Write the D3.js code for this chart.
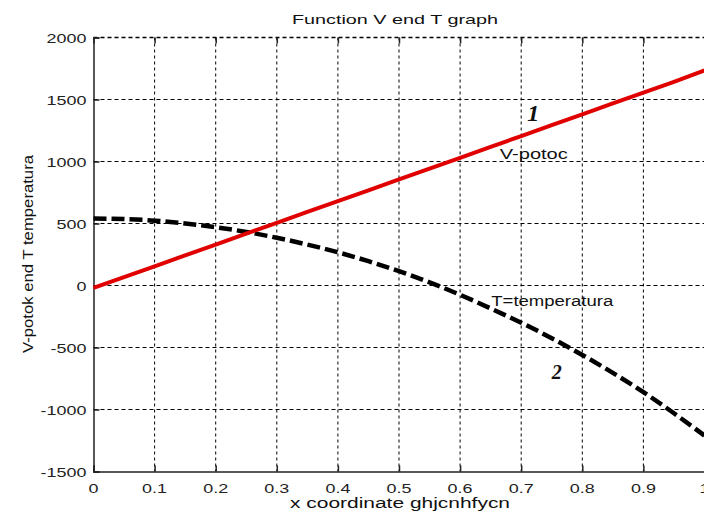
<!DOCTYPE html>
<html>
<head>
<meta charset="utf-8">
<script src="https://cdn.jsdelivr.net/npm/d3@7"></script>
<style>
  body { margin: 0; background: #fff; }
  svg { display: block; font-family: "Liberation Sans", Arial, sans-serif; }
  .tlab { font-size: 13px; fill: #222; }
</style>
</head>
<body>
<svg width="704" height="513"></svg>
<script>
// data
var xs = [0, 0.05, 0.1, 0.15, 0.2, 0.25, 0.3, 0.35, 0.4, 0.45, 0.5, 0.55, 0.6, 0.65, 0.7, 0.75, 0.8, 0.85, 0.9, 0.95, 1.0];
var vPotoc = [-20, 68, 155, 243, 330, 418, 505, 593, 680, 768, 855, 943, 1030, 1118, 1205, 1293, 1380, 1468, 1555, 1643, 1735];
var tTemp = [540, 536, 523, 500, 470, 432, 385, 330, 268, 196, 115, 25, -75, -185, -300, -425, -560, -705, -860, -1030, -1210];
var xTicks = [0, 0.1, 0.2, 0.3, 0.4, 0.5, 0.6, 0.7, 0.8, 0.9, 1];
var xTickLabels = ['0', '0.1', '0.2', '0.3', '0.4', '0.5', '0.6', '0.7', '0.8', '0.9', '1'];
var yTicks = [-1500, -1000, -500, 0, 500, 1000, 1500, 2000];
var yTickLabels = ['-1500', '-1000', '-500', '0', '500', '1000', '1500', '2000'];

var svg = d3.select('svg');

var xScale = d3.scaleLinear().domain([0, 1]).range([93.5, 704.5]);
var yScale = d3.scaleLinear().domain([-1500, 2000]).range([471.5, 37.5]);

// grid
svg.append('g')
    .selectAll('line')
    .data(xTicks.slice(1))
    .enter()
    .append('line')
    .attr('x1', d => xScale(d)).attr('x2', d => xScale(d))
    .attr('y1', yScale(2000)).attr('y2', yScale(-1500))
    .attr('stroke', '#000')
    .attr('stroke-width', 1)
    .attr('stroke-dasharray', '3,3');

svg.append('g')
    .selectAll('line')
    .data(yTicks.slice(1))
    .enter()
    .append('line')
    .attr('x1', xScale(0)).attr('x2', xScale(1))
    .attr('y1', d => yScale(d)).attr('y2', d => yScale(d))
    .attr('stroke', '#000')
    .attr('stroke-width', d => d === 2000 ? 1.5 : 1)
    .attr('stroke-dasharray', '4,3');

// axes (lines and ticks only, labels drawn below)
var gx = svg.append('g').attr('transform', 'translate(0,' + yScale(-1500) + ')')
    .call(d3.axisBottom(xScale).tickValues(xTicks).tickSize(-6).tickFormat(''));
var gt = svg.append('g').attr('transform', 'translate(0,' + yScale(2000) + ')')
    .call(d3.axisTop(xScale).tickValues(xTicks).tickSize(-6).tickFormat(''));
gt.select('.domain').remove();
var gy = svg.append('g').attr('transform', 'translate(' + xScale(0) + ',0)')
    .call(d3.axisLeft(yScale).tickValues(yTicks).tickSize(-6).tickFormat(''));

[gx, gy, gt].forEach(function (g) {
    g.select('.domain').attr('stroke', '#222').attr('stroke-width', 1.5);
    g.selectAll('.tick line').attr('stroke', '#222').attr('stroke-width', 1.5);
});

// tick labels, stretched sideways like the reference font
function stretch(sel, k) {
    sel.each(function () {
        var w = this.getComputedTextLength();
        if (w > 0) {
            d3.select(this).attr('textLength', w * k).attr('lengthAdjust', 'spacingAndGlyphs');
        }
    });
}

svg.append('g')
    .selectAll('text')
    .data(xTicks)
    .enter()
    .append('text')
    .attr('class', 'tlab')
    .attr('x', d => xScale(d))
    .attr('y', yScale(-1500) + 21)
    .attr('text-anchor', 'middle')
    .text((d, i) => xTickLabels[i])
    .call(stretch, 1.38);

svg.append('g')
    .selectAll('text')
    .data(yTicks)
    .enter()
    .append('text')
    .attr('class', 'tlab')
    .attr('x', xScale(0) - 7)
    .attr('y', d => yScale(d) + 5)
    .attr('text-anchor', 'end')
    .text((d, i) => yTickLabels[i])
    .call(stretch, 1.38);

// lines
var lineV = d3.line()
    .x((d, i) => xScale(xs[i]))
    .y(d => yScale(d));

var lineT = d3.line()
    .curve(d3.curveMonotoneX)
    .x((d, i) => xScale(xs[i]))
    .y(d => yScale(d));

svg.append('path')
    .datum(tTemp)
    .attr('fill', 'none')
    .attr('stroke', '#000')
    .attr('stroke-width', 4.5)
    .attr('stroke-dasharray', '13,5')
    .attr('d', lineT);

svg.append('path')
    .datum(vPotoc)
    .attr('fill', 'none')
    .attr('stroke', '#e00000')
    .attr('stroke-width', 4)
    .attr('d', lineV);

// texts
svg.append('text')
    .attr('x', 395).attr('y', 24)
    .attr('text-anchor', 'middle')
    .attr('textLength', 206).attr('lengthAdjust', 'spacingAndGlyphs')
    .style('font-size', '13px')
    .attr('fill', '#111')
    .text('Function V end T graph');

svg.append('text')
    .attr('x', 400).attr('y', 508)
    .attr('text-anchor', 'middle')
    .attr('textLength', 220).attr('lengthAdjust', 'spacingAndGlyphs')
    .style('font-size', '14px')
    .attr('fill', '#111')
    .text('x coordinate ghjcnhfycn');

svg.append('text')
    .attr('transform', 'translate(33,254) rotate(-90)')
    .attr('text-anchor', 'middle')
    .attr('textLength', 198).attr('lengthAdjust', 'spacingAndGlyphs')
    .style('font-size', '14px')
    .attr('fill', '#111')
    .text('V-potok end T temperatura');

svg.append('text')
    .attr('x', xScale(0.665)).attr('y', yScale(1020))
    .style('font-size', '14px')
    .attr('fill', '#111')
    .attr('textLength', 68).attr('lengthAdjust', 'spacingAndGlyphs')
    .text('V-potoc');

svg.append('text')
    .attr('x', xScale(0.651)).attr('y', yScale(-165))
    .style('font-size', '14px')
    .attr('fill', '#111')
    .attr('textLength', 122).attr('lengthAdjust', 'spacingAndGlyphs')
    .text('T=temperatura');

svg.append('text')
    .attr('x', xScale(0.71)).attr('y', yScale(1330))
    .style('font-family', '"Liberation Serif", "Times New Roman", serif')
    .style('font-size', '24px')
    .style('font-style', 'italic')
    .style('font-weight', 'bold')
    .attr('fill', '#111')
    .text('1');

svg.append('text')
    .attr('x', xScale(0.75)).attr('y', yScale(-755))
    .style('font-family', '"Liberation Serif", "Times New Roman", serif')
    .style('font-size', '20px')
    .style('font-style', 'italic')
    .style('font-weight', 'bold')
    .attr('fill', '#111')
    .text('2');
</script>
</body>
</html>
